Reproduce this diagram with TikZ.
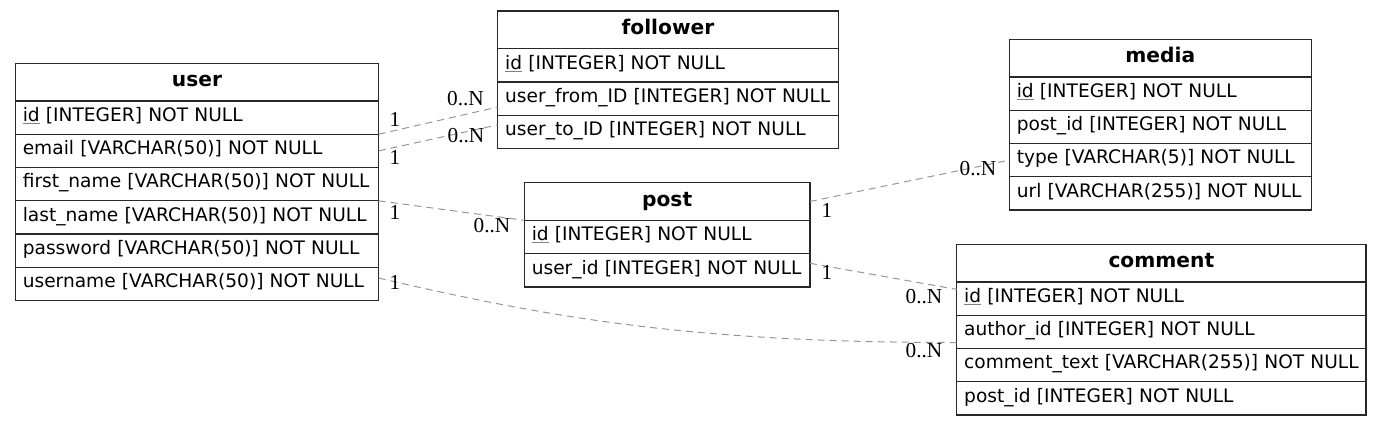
\documentclass[tikz,border=0pt]{standalone}
\usepackage{fontspec}
\setmainfont{DejaVu Sans}
\newfontfamily\lblfont{Liberation Serif}
\usepackage{tikz}
\usetikzlibrary{positioning}

\definecolor{bordc}{RGB}{40,40,40}
\definecolor{relc}{RGB}{150,150,150}
\newcommand\rowfont{\fontsize{18.6}{22}\selectfont}
\newcommand\pk[1]{\textcolor{gray}{\underline{\textcolor{black}{#1}}}}
\newcommand\fld[1]{\mbox{#1}}

\tikzset{
  tbl/.style={draw=bordc, line width=1.3pt, outer sep=0pt, inner xsep=7.5pt, inner ysep=0pt,
    text height=13.6pt, text depth=6pt, font=\rowfont},
  hdr/.style={tbl, text width=#1, align=center, minimum height=37.6pt, anchor=north west,
    text depth=4pt, font=\fontsize{20.2}{24}\selectfont\bfseries},
  row/.style={tbl, text width=#1, align=left, minimum height=33.3pt},
  rel/.style={draw=relc, line width=1pt, dash pattern=on 7pt off 5pt},
  lbl/.style={inner sep=0pt, font=\lblfont\fontsize{21.3}{25}\selectfont}
}

\begin{document}
\begin{tikzpicture}[x=1pt, y=-1pt]
                \useasboundingbox (0,0) rectangle (1381,426);

                % user
                \node[hdr=348.4pt] (user) at (15.3,63.3) {user};
                \node[row=348.4pt, below=0pt of user] (user-id) {\fld{\pk{id} [INTEGER] NOT NULL}};
                \node[row=348.4pt, below=0pt of user-id] (user-email) {\fld{email [VARCHAR(50)] NOT NULL}};
                \node[row=348.4pt, below=0pt of user-email] (user-first) {\fld{first\_name [VARCHAR(50)] NOT NULL}};
                \node[row=348.4pt, below=0pt of user-first] (user-last) {\fld{last\_name [VARCHAR(50)] NOT NULL}};
                \node[row=348.4pt, below=0pt of user-last] (user-pass) {\fld{password [VARCHAR(50)] NOT NULL}};
                \node[row=348.4pt, below=0pt of user-pass] (user-uname) {\fld{username [VARCHAR(50)] NOT NULL}};

                % follower
                \node[hdr=325.6pt] (follower) at (497.7,11) {follower};
                \node[row=325.6pt, below=0pt of follower] (follower-id) {\fld{\pk{id} [INTEGER] NOT NULL}};
                \node[row=325.6pt, below=0pt of follower-id] (follower-from) {\fld{user\_from\_ID [INTEGER] NOT NULL}};
                \node[row=325.6pt, below=0pt of follower-from] (follower-to) {\fld{user\_to\_ID [INTEGER] NOT NULL}};

                % media
                \node[hdr=287pt] (media) at (1009.3,39.3) {media};
                \node[row=287pt, below=0pt of media] (media-id) {\fld{\pk{id} [INTEGER] NOT NULL}};
                \node[row=287pt, below=0pt of media-id] (media-post) {\fld{post\_id [INTEGER] NOT NULL}};
                \node[row=287pt, below=0pt of media-post] (media-type) {\fld{type [VARCHAR(5)] NOT NULL}};
                \node[row=287pt, below=0pt of media-type] (media-url) {\fld{url [VARCHAR(255)] NOT NULL}};

                % post
                \node[hdr=270.7pt] (post) at (524.3,182.7) {post};
                \node[row=270.7pt, below=0pt of post] (post-id) {\fld{\pk{id} [INTEGER] NOT NULL}};
                \node[row=270.7pt, below=0pt of post-id] (post-uid) {\fld{user\_id [INTEGER] NOT NULL}};

                % comment
                \node[hdr=394.3pt] (comment) at (956.7,244.3) {comment};
                \node[row=394.3pt, below=0pt of comment] (comment-id) {\fld{\pk{id} [INTEGER] NOT NULL}};
                \node[row=394.3pt, below=0pt of comment-id] (comment-author) {\fld{author\_id [INTEGER] NOT NULL}};
                \node[row=394.3pt, below=0pt of comment-author] (comment-text) {\fld{comment\_text [VARCHAR(255)] NOT NULL}};
                \node[row=394.3pt, below=0pt of comment-text] (comment-post) {\fld{post\_id [INTEGER] NOT NULL}};

                % relations
                \draw[rel] (user-id.south east) -- ([yshift=-8.5pt]follower-from.west);
                \draw[rel] (user-email.east) -- ([yshift=7pt]follower-to.west);
                \draw[rel] (user-last.north east) -- (post.south west);
                \draw[rel] ([yshift=6pt]user-uname.east) .. controls +(180,42) and +(-257,0) .. ([yshift=6pt]comment-author.south west);
                \draw[rel] (post.east) -- (media-type.west);
                \draw[rel] ([yshift=7pt]post-uid.east) -- ([yshift=-7.5pt]comment-id.north west);

                \node[lbl] (a-one) at (395,119.5) {1};
                \node[lbl] (a-many) at (465.5,99) {0..N};
                \node[lbl] (b-one) at (395,157) {1};
                \node[lbl] (b-many) at (466,136) {0..N};
                \node[lbl] (c-one) at (395,212) {1};
                \node[lbl] (c-many) at (492,226) {0..N};
                \node[lbl] (d-one) at (395,282) {1};
                \node[lbl] (d-many) at (924,351) {0..N};
                \node[lbl] (e-one) at (827,210) {1};
                \node[lbl] (e-many) at (978,169) {0..N};
                \node[lbl] (f-one) at (827,272.5) {1};
                \node[lbl] (f-many) at (924,297) {0..N};
\end{tikzpicture}
\end{document}
